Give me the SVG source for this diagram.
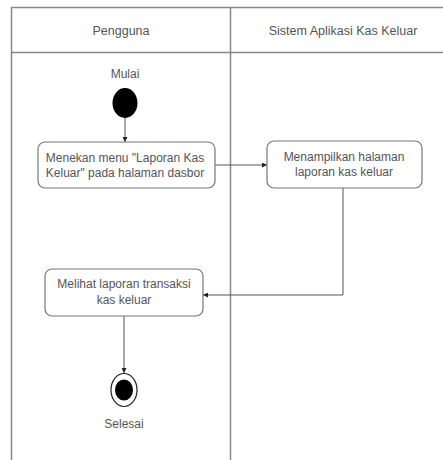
<svg xmlns="http://www.w3.org/2000/svg" width="443" height="460" viewBox="0 0 443 460">
  <style>
    .lane { stroke: #888; stroke-width: 1.5; fill: none; }
    .box { fill: #fff; stroke: #777; stroke-width: 1.2; }
    .txt { font-family: "Liberation Sans", Arial, sans-serif; font-size: 12px; fill: #555; text-anchor: middle; }
    .hdr { font-family: "Liberation Sans", Arial, sans-serif; font-size: 12.5px; fill: #555; text-anchor: middle; }
    .edge { stroke: #555; stroke-width: 1; fill: none; }
  </style>
  <defs>
    <marker id="arrow" viewBox="0 0 6 6" refX="6" refY="3" markerWidth="5" markerHeight="5" orient="auto">
      <path d="M0,0 L6,3 L0,6 z" fill="#222"/>
    </marker>
  </defs>
  <rect width="443" height="460" fill="#fff"/>

  <!-- swimlanes -->
  <g id="lanes">
    <line class="lane" x1="11" y1="7.5" x2="443" y2="7.5"/>
    <line class="lane" x1="11" y1="52.5" x2="443" y2="52.5"/>
    <line class="lane" x1="11.5" y1="7" x2="11.5" y2="460"/>
    <line class="lane" x1="230.5" y1="7" x2="230.5" y2="460"/>
    <text class="hdr" x="121" y="35">Pengguna</text>
    <text class="hdr" x="343" y="35">Sistem Aplikasi Kas Keluar</text>
  </g>

  <!-- connectors -->
  <g id="connectors">
    <line class="edge" x1="125" y1="118" x2="125" y2="142" marker-end="url(#arrow)"/>
    <line class="edge" x1="214" y1="165" x2="267" y2="165" marker-end="url(#arrow)"/>
    <polyline class="edge" points="343,188 343,295 203,295" marker-end="url(#arrow)"/>
    <line class="edge" x1="124" y1="316" x2="124" y2="373" marker-end="url(#arrow)"/>
  </g>

  <g id="start">
    <text class="txt" x="125" y="78">Mulai</text>
    <ellipse cx="125" cy="103" rx="12.5" ry="15" fill="#000"/>
  </g>

  <g id="menekan">
    <rect class="box" x="38" y="142" width="177" height="46" rx="7"/>
    <text class="txt" x="125" y="162">Menekan menu "Laporan Kas</text>
    <text class="txt" x="125" y="177">Keluar" pada halaman dasbor</text>
  </g>

  <g id="menampilkan">
    <rect class="box" x="267" y="141" width="155" height="47" rx="7"/>
    <text class="txt" x="344" y="161">Menampilkan halaman</text>
    <text class="txt" x="344" y="176">laporan kas keluar</text>
  </g>

  <g id="melihat">
    <rect class="box" x="45" y="269" width="158" height="47" rx="7"/>
    <text class="txt" x="124" y="288">Melihat laporan transaksi</text>
    <text class="txt" x="124" y="304">kas keluar</text>
  </g>

  <g id="end">
    <ellipse cx="124" cy="390" rx="13" ry="16.5" fill="#fff" stroke="#222" stroke-width="1.2"/>
    <ellipse cx="124" cy="390" rx="9" ry="10.5" fill="#000"/>
    <text class="txt" x="124" y="428">Selesai</text>
  </g>
</svg>
